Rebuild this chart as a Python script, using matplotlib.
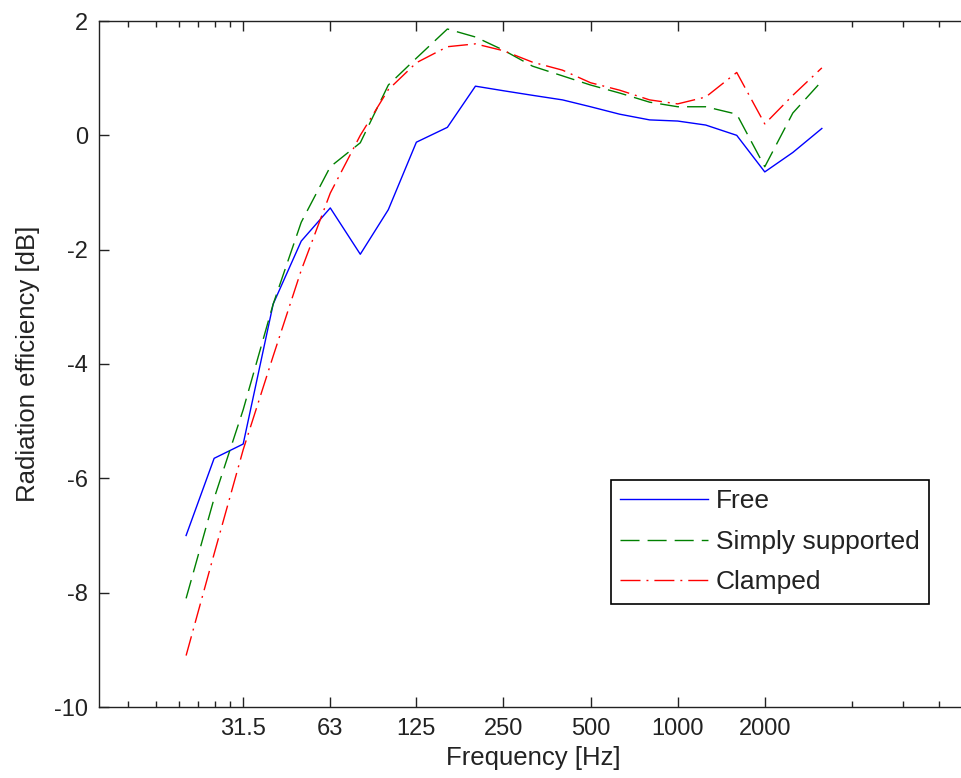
import matplotlib
matplotlib.use("Agg")
import matplotlib.pyplot as plt
from matplotlib.ticker import NullFormatter, FixedLocator

plt.rcParams['font.family'] = ['Liberation Sans', 'DejaVu Sans']
plt.rcParams['axes.unicode_minus'] = False

# third-octave band centre frequencies [Hz]
freqs = [20, 25, 31.5, 40, 50, 63, 80, 100, 125, 160, 200, 250, 315, 400,
         500, 630, 800, 1000, 1250, 1600, 2000, 2500, 3150]

# radiation efficiency [dB]
free = [-7.0, -5.65, -5.4, -2.95, -1.85, -1.27, -2.08, -1.3, -0.12, 0.14,
        0.86, 0.78, 0.7, 0.62, 0.5, 0.37, 0.27, 0.25, 0.18, 0.0, -0.64, -0.3, 0.12]
simply = [-8.1, -6.35, -4.8, -2.95, -1.52, -0.55, -0.13, 0.88, 1.35, 1.86,
          1.72, 1.49, 1.21, 1.04, 0.88, 0.74, 0.58, 0.5, 0.5, 0.37, -0.55, 0.39, 0.95]
clamped = [-9.1, -7.32, -5.5, -3.86, -2.36, -1.01, 0.0, 0.8, 1.27, 1.55,
           1.6, 1.48, 1.28, 1.14, 0.92, 0.79, 0.62, 0.55, 0.67, 1.1, 0.2, 0.7, 1.18]

xticks = [31.5, 63, 125, 250, 500, 1000, 2000]
xticklabels = ['31.5', '63', '125', '250', '500', '1000', '2000']
xminor = [12.6, 15.75, 18.9, 22.05, 25.2, 28.35, 4000, 6000, 8000]
yticks = [-10, -8, -6, -4, -2, 0, 2]

W, H = 962, 778
fig = plt.figure(figsize=(W / 100, H / 100), dpi=100)
ax = fig.add_axes([99 / W, 1 - 707 / H, (967 - 99) / W, (707 - 21) / H])

ax.plot(freqs, free, color=(0, 0, 1), lw=1.0, label='Free')
ax.plot(freqs, simply, color=(0, 0.5, 0), lw=1.0, linestyle=(0, (13.7, 5.8)),
        label='Simply supported')
ax.plot(freqs, clamped, color=(1, 0, 0), lw=1.0, linestyle=(0, (14.4, 4.3, 1.4, 4.3)),
        label='Clamped')

ax.set_xscale('log')
ax.set_xlim(10, 10000)
ax.set_ylim(-10, 2)
ax.xaxis.set_major_locator(FixedLocator(xticks))
ax.set_xticklabels(xticklabels)
ax.xaxis.set_minor_locator(FixedLocator(xminor))
ax.xaxis.set_minor_formatter(NullFormatter())
ax.set_yticks(yticks)
ax.set_yticklabels([str(v) for v in yticks])

ax.tick_params(which='both', direction='in', top=True, right=False, width=1.0,
               colors='#222222', labelcolor='#222222', labelsize=17)
ax.tick_params(which='major', length=7.2, pad=8)
ax.tick_params(which='minor', length=4)
for s in ax.spines.values():
    s.set_linewidth(1.0)
    s.set_color('#222222')

ax.set_xlabel('Frequency [Hz]', fontsize=18.5, color='#222222', labelpad=4)
ax.set_ylabel('Radiation efficiency [dB]', fontsize=18.5, color='#222222', labelpad=10)

leg = ax.legend(loc='upper left', bbox_to_anchor=(611 / W, 1 - 480 / H),
                bbox_transform=fig.transFigure, borderaxespad=0, fancybox=False,
                framealpha=1, edgecolor='black', fontsize=19, handlelength=3.33,
                handletextpad=0.3, labelspacing=0.63, borderpad=0.35)
leg.get_frame().set_linewidth(1.2)
for t in leg.get_texts():
    t.set_color('#222222')

fig.savefig('out.png', dpi=100)
